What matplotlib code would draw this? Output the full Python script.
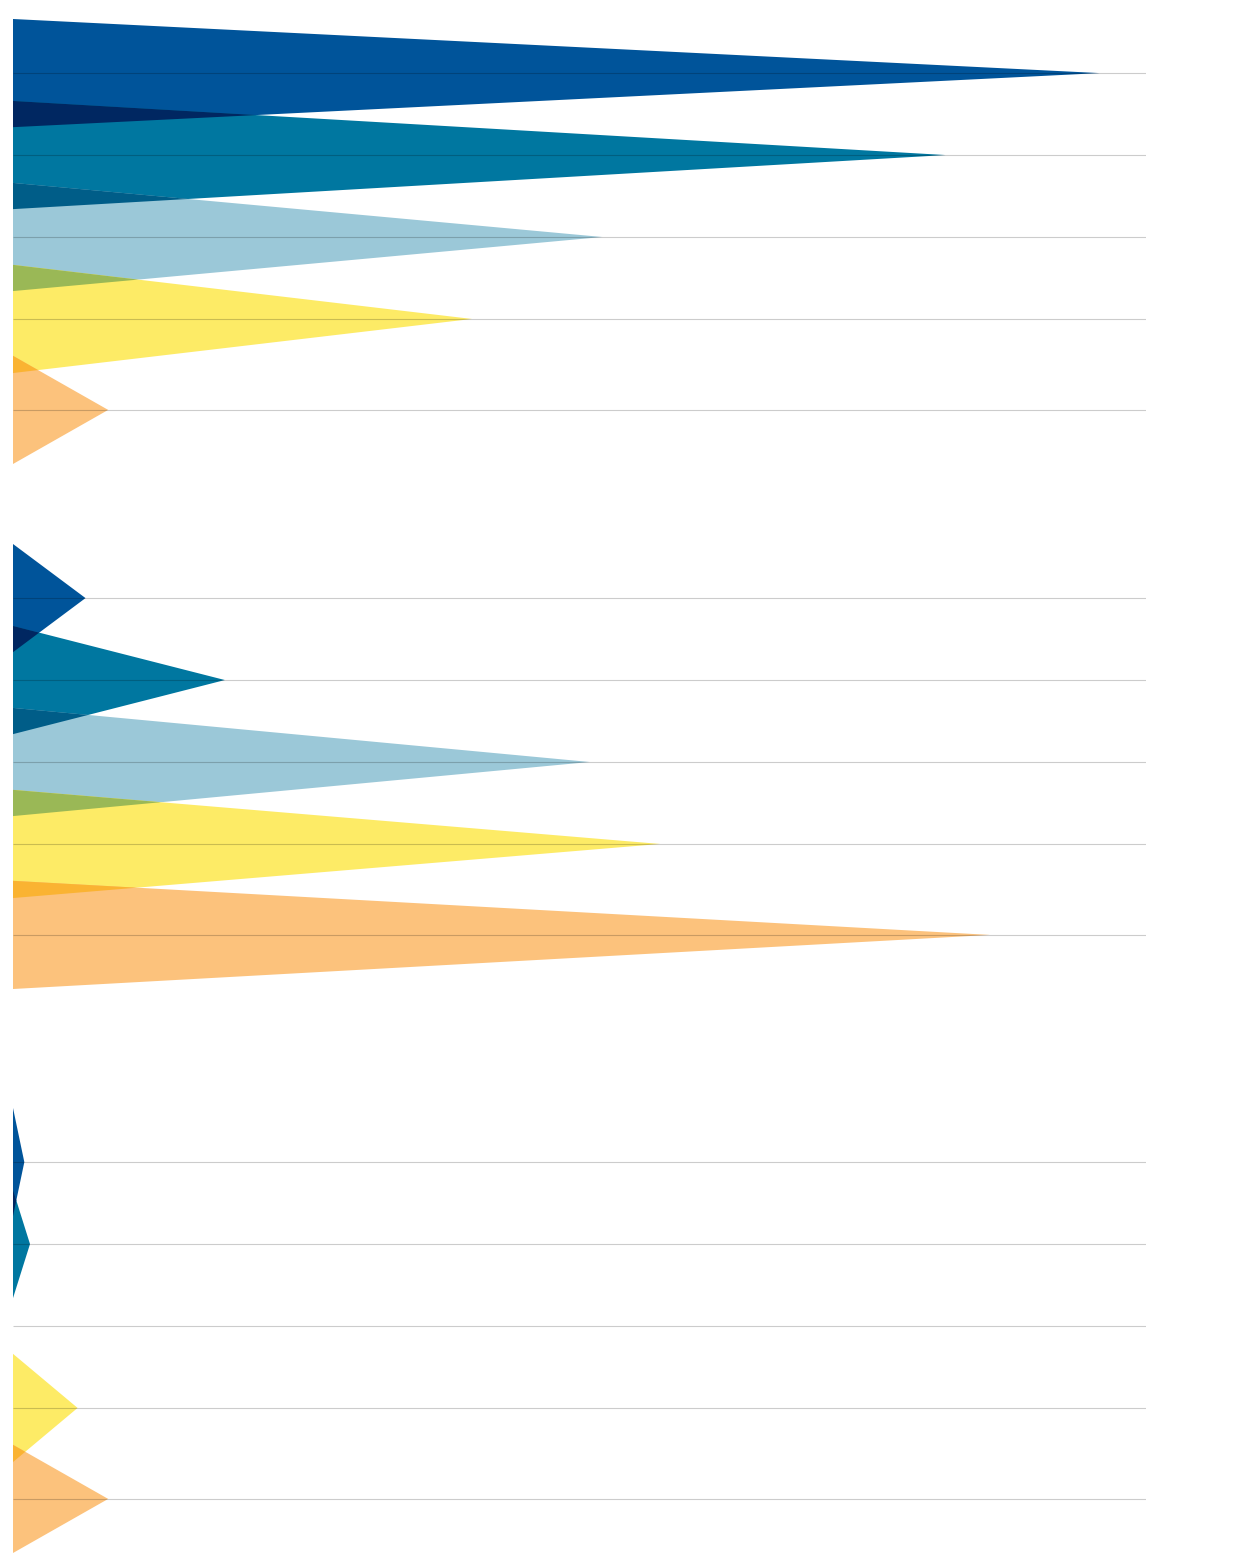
import matplotlib.pyplot as plt
import numpy as np

# three panels, five rows each (axis 0..100)
panel1 = [95.9, 82.3, 52.0, 40.5, 8.4]
panel2 = [6.4, 18.7, 50.9, 57.1, 86.2]
panel3 = [1.0, 1.5, 0.0, 5.7, 8.4]
panels = [panel1, panel2, panel3]

colors = ["#00549A", "#0077A0", "#9BC8D8", "#FDEB66", "#FCC27C"]
rows = [0, 1, 2, 3, 4.11]
half = 0.66

W, H = 1255, 1553
fig = plt.figure(figsize=(W / 100, H / 100), dpi=100)
fig.patch.set_facecolor("white")

# pixel top edge of each panel
tops = [19, 544, 1108]


def mult(c1, c2):
    a = np.array(plt.matplotlib.colors.to_rgb(c1))
    b = np.array(plt.matplotlib.colors.to_rgb(c2))
    return tuple(a * b)


for vals, top in zip(panels, tops):
    ax = fig.add_axes([13 / W, 1 - (top + 445) / H, 1133 / W, 445 / H])
    ax.set_xlim(0, 100)
    ax.set_ylim(rows[-1] + half + 0.0, -half)
    ax.axis("off")

    for v, y, c in zip(vals, rows, colors):
        if v > 0:
            ax.fill([0, v, 0], [y - half, y, y + half], color=c, lw=0, zorder=1)

    # overlap of neighbouring triangles, coloured like a multiply blend
    for i in range(len(vals) - 1):
        va, vb = vals[i], vals[i + 1]
        if va <= 0 or vb <= 0:
            continue
        ya, yb = rows[i], rows[i + 1]
        d = yb - ya
        if 2 * half <= d:
            continue
        xs = (2 * half - d) / (half / va + half / vb)
        ys = ya + half * (1 - xs / va)
        ax.fill([0, xs, 0], [yb - half, ys, ya + half],
                color=mult(colors[i], colors[i + 1]), lw=0, zorder=2)

    ax.hlines(rows, 0, 100, color="black", alpha=0.2, lw=0.8, zorder=3)

fig.savefig("out.png", dpi=100, facecolor="white")
